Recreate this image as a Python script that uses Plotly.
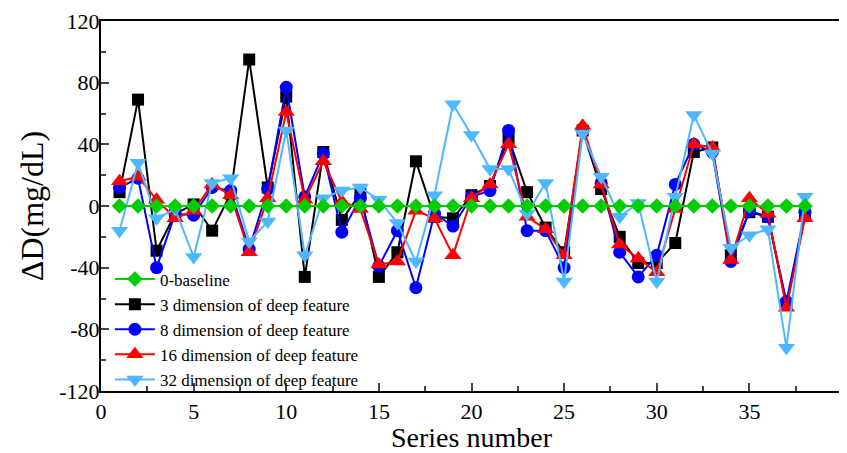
import plotly.graph_objects as go

series_number = list(range(1, 39))
baseline = [0] * 38
dim3 = [9, 69, -29, -5, 1, -16, 8, 95, 12, 71, -46, 35, -9, 8, -46, -30, 29, -7, -8, 7,
        13, 44, 9, -14, -30, 49, 11, -20, -37, -37, -24, 35, 38, -32, -4, -7, -64, -6]
dim8 = [12, 18, -40, -5, -6, 12, 10, -28, 11, 77, 6, 34, -17, 5, -39, -16, -53, -5, -13, 6,
        10, 49, -16, -16, -40, 49, 15, -30, -46, -32, 14, 40, 35, -36, -3, -7, -62, -4]
dim16 = [16, 19, 4, -8, -3, 14, 7, -30, 5, 61, 4, 29, 3, -2, -38, -36, -3, -8, -32, 5,
         14, 40, -7, -15, -32, 52, 14, -25, -34, -43, -2, 40, 38, -35, 5, -5, -66, -8]
dim32 = [-16, 28, -8, -2, -33, 15, 18, -23, -10, 49, -32, 5, 10, 12, 4, -11, -36, 7, 66, 46,
         24, 24, -5, 15, -49, 47, 19, -7, 2, -49, 6, 59, 34, -27, -19, -15, -92, 6]

names = ["0-baseline", "3 dimension of deep feature", "8 dimension of deep feature",
         "16 dimension of deep feature", "32 dimension of deep feature"]

y_ticks = [-120, -80, -40, 0, 40, 80, 120]
y_ticktext = ["-120", "-80", "-40", "0", "40", "80", "120"]

fig = go.Figure()
specs = [
    (dim3, names[1], "#000000", "square", 12, 2),
    (dim8, names[2], "#0000ff", "circle", 13, 3),
    (dim16, names[3], "#ff0000", "triangle-up", 15, 4),
    (dim32, names[4], "#4db8ff", "triangle-down", 15, 5),
    (baseline, names[0], "#00cc00", "diamond", 12, 1),
]
for vals, nm, col, sym, sz, rank in specs:
    fig.add_trace(go.Scatter(
        x=series_number, y=vals, name=nm, mode="lines+markers",
        line=dict(color=col, width=2),
        marker=dict(symbol=sym, size=sz, color=col, line=dict(width=0)),
        legendrank=rank,
    ))

font = "Liberation Serif, Times New Roman, serif"
# the page body has an 8px margin, so the figure is offset by 8px right and down
fig.update_layout(
    width=839, height=445,
    margin=dict(l=93, r=5, t=13, b=62),
    paper_bgcolor="white", plot_bgcolor="white",
    font=dict(family=font, color="black", size=18),
    showlegend=True,
    legend=dict(x=0.012, y=0.35, xanchor="left", yanchor="top",
                bgcolor="rgba(0,0,0,0)", font=dict(size=17, family=font),
                itemwidth=40, tracegroupgap=0),
    xaxis=dict(range=[0, 40], dtick=5, tick0=0, ticks="inside", ticklen=8, tickwidth=1.5,
               showline=True, linecolor="black", linewidth=2, mirror=True,
               showgrid=False, zeroline=False, automargin=False,
               minor=dict(dtick=2.5, ticks="inside", ticklen=5, tickwidth=1.5, showgrid=False),
               title=dict(text="Series number", font=dict(size=28, family=font), standoff=0),
               tickfont=dict(size=22, family=font)),
    yaxis=dict(range=[-120, 120], tickmode="array", tickvals=y_ticks, ticktext=y_ticktext,
               ticks="inside", ticklen=8, tickwidth=1.5, ticklabelstandoff=-5,
               showline=True, linecolor="black", linewidth=2, mirror=True,
               showgrid=False, zeroline=False, automargin=False,
               minor=dict(dtick=20, ticks="inside", ticklen=5, tickwidth=1.5, showgrid=False),
               title=dict(text="ΔD(mg/dL)", font=dict(size=32, family=font), standoff=6),
               tickfont=dict(size=22, family=font)),
)

fig.write_html("out.html")
